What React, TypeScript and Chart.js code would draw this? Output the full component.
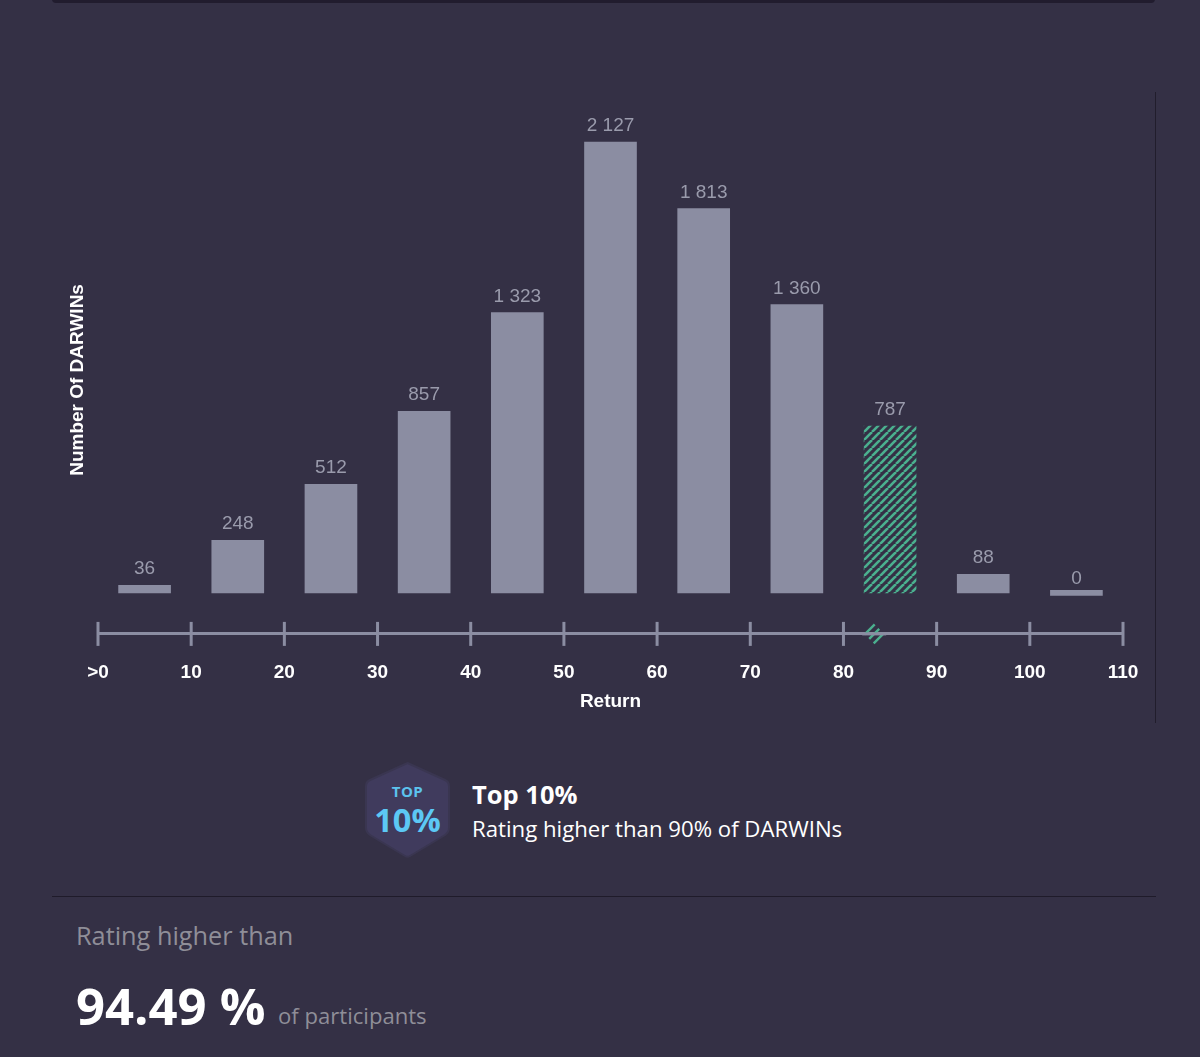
import { useEffect, useRef } from "react";
import Chart from "chart.js/auto";

const binStarts = [5, 15, 25, 35, 45, 55, 65, 75, 85, 95, 105];
const darwinCounts = [36, 248, 512, 857, 1323, 2127, 1813, 1360, 787, 88, 0];
const highlightedBin = 8;
const userReturn = 83.3;

const BG = "#343045";
const BAR = "#8b8da2";
const GREEN = "#4bb08f";
const LABEL_FONT = "'Liberation Sans', Arial, sans-serif";
const TEXT_FONT = "'Open Sans', 'Noto Sans', sans-serif";

function hatchPattern(ctx: CanvasRenderingContext2D) {
    const size = 8;
    const tile = document.createElement("canvas");
    tile.width = size;
    tile.height = size;
    const c = tile.getContext("2d")!;
    c.fillStyle = BG;
    c.fillRect(0, 0, size, size);
    c.strokeStyle = GREEN;
    c.lineWidth = 2.6;
    for (const off of [-size, 0, size]) {
        c.beginPath();
        c.moveTo(off, size);
        c.lineTo(off + size, 0);
        c.stroke();
    }
    return ctx.createPattern(tile, "repeat")!;
}

// thousands separated by a space, as in the original labels
const formatCount = (n: number) => String(n).replace(/\B(?=(\d{3})+$)/g, " ");

const valueLabels = {
    id: "valueLabels",
    afterDatasetsDraw(chart: any) {
        const { ctx } = chart;
        const bars = chart.getDatasetMeta(0).data;
        ctx.save();
        ctx.font = `19px ${LABEL_FONT}`;
        ctx.fillStyle = "#9a9bac";
        ctx.textAlign = "center";
        ctx.textBaseline = "alphabetic";
        bars.forEach((bar: any, i: number) => {
            ctx.fillText(formatCount(darwinCounts[i]), bar.x, bar.y - 11);
        });
        ctx.restore();
    },
};

const axisMarks = {
    id: "axisMarks",
    afterDraw(chart: any) {
        const { ctx, scales } = chart;
        const x = scales.x;
        const y = chart.chartArea.bottom;
        ctx.save();
        ctx.strokeStyle = BAR;
        ctx.lineWidth = 3;
        x.ticks.forEach((t: any) => {
            const px = x.getPixelForValue(t.value);
            ctx.beginPath();
            ctx.moveTo(px, y - 12);
            ctx.lineTo(px, y + 12);
            ctx.stroke();
        });
        // little hatch on the axis where the user's return sits
        const mx = x.getPixelForValue(userReturn);
        ctx.strokeStyle = GREEN;
        ctx.lineWidth = 2.4;
        [-4.5, 0, 4.5].forEach((d) => {
            ctx.beginPath();
            ctx.moveTo(mx + d - 5, y + d + 5);
            ctx.lineTo(mx + d + 5, y + d - 5);
            ctx.stroke();
        });
        // axis line stays on top of the hatch
        ctx.strokeStyle = BAR;
        ctx.lineWidth = 3;
        ctx.beginPath();
        ctx.moveTo(mx - 12, y);
        ctx.lineTo(mx + 12, y);
        ctx.stroke();
        ctx.restore();
    },
};

function Badge() {
    return (
        <div style={{ position: "absolute", left: 362, top: 760, width: 92, height: 100 }}>
            <svg width="92" height="100" viewBox="0 0 92 100" style={{ position: "absolute", left: 0, top: 0 }}>
                <path
                    d="M45.5 3 L83 20 Q87 22 87 26 L87 68 Q87 72 83 75 L48 96 Q45.5 97.5 43 96 L8 75 Q4 72 4 68 L4 26 Q4 22 8 20 Z"
                    fill="#403b5d"
                    stroke="#3a3651"
                    strokeWidth="2"
                />
            </svg>
            <div style={{ position: "absolute", left: 0, width: 91, top: 21, textAlign: "center", color: "#5cc3ee", font: `700 15px ${TEXT_FONT}`, letterSpacing: 0.5 }}>
                TOP
            </div>
            <div style={{ position: "absolute", left: 0, width: 91, top: 37, textAlign: "center", color: "#5cc8f5", font: `700 32.5px ${TEXT_FONT}` }}>
                10%
            </div>
        </div>
    );
}

export default function App() {
    const canvasRef = useRef<HTMLCanvasElement | null>(null);

    useEffect(() => {
        if (!canvasRef.current) {
            return;
        }
        document.body.style.margin = "0";
        document.body.style.background = BG;

        const ctx = canvasRef.current.getContext("2d")!;
        const hatch = hatchPattern(ctx);

        const chart = new Chart(canvasRef.current, {
            type: "bar",
            data: {
                datasets: [
                    {
                        data: binStarts.map((x, i) => ({ x, y: darwinCounts[i] })),
                        backgroundColor: darwinCounts.map((_, i) => (i === highlightedBin ? hatch : BAR)),
                        barThickness: 52,
                        minBarLength: 5,
                    },
                ],
            },
            plugins: [valueLabels, axisMarks],
            options: {
                responsive: false,
                animation: false,
                layout: { padding: { top: 126, right: 77, bottom: 17, left: 66 } },
                plugins: { legend: { display: false }, tooltip: { enabled: false } },
                scales: {
                    x: {
                        type: "linear",
                        offset: false,
                        min: 0,
                        max: 110,
                        grid: { display: false, drawTicks: false },
                        border: { color: BAR, width: 3 },
                        ticks: {
                            stepSize: 10,
                            padding: 27,
                            maxRotation: 0,
                            autoSkip: false,
                            color: "#ffffff",
                            font: { family: LABEL_FONT, size: 19, weight: "bold" },
                            callback: (v: any) => (v === 0 ? ">0" : String(v)),
                        },
                        title: {
                            display: true,
                            text: "Return",
                            color: "#ffffff",
                            font: { family: LABEL_FONT, size: 19, weight: "bold" },
                            padding: { top: -20.5, bottom: 0 },
                        },
                    },
                    y: {
                        min: -193.4,
                        max: 2203,
                        grid: { display: false },
                        border: { display: false },
                        ticks: { display: false },
                        title: {
                            display: true,
                            text: "Number Of DARWINs",
                            color: "#ffffff",
                            font: { family: LABEL_FONT, size: 19, weight: "bold" },
                            padding: 0,
                        },
                        afterFit: (scale: any) => {
                            scale.width = 32;
                        },
                    },
                },
            } as any,
        });

        return () => chart.destroy();
    }, []);

    return (
        <div style={{ position: "relative", width: 1200, height: 1057, overflow: "hidden", background: BG }}>
            <div style={{ position: "absolute", left: 52, top: -8, width: 1103, height: 11, background: "#211c2e", borderRadius: 4 }} />
            <canvas ref={canvasRef} width={1200} height={730} style={{ position: "absolute", left: 0, top: 0 }} />
            <div style={{ position: "absolute", left: 1155, top: 92, width: 1, height: 631, background: "#211d2c" }} />
            <Badge />
            <div style={{ position: "absolute", left: 472, top: 777, color: "#fff", font: `700 25.5px ${TEXT_FONT}` }}>Top 10%</div>
            <div style={{ position: "absolute", left: 472, top: 813, color: "#fff", font: `400 22.2px ${TEXT_FONT}` }}>Rating higher than 90% of DARWINs</div>
            <div style={{ position: "absolute", left: 52, top: 896, width: 1104, height: 1, background: "#1f1b2a" }} />
            <div style={{ position: "absolute", left: 76, top: 918, color: "#8f8e98", font: `400 25.3px ${TEXT_FONT}` }}>Rating higher than</div>
            <div style={{ position: "absolute", left: 76, top: 971, color: "#fff", font: `700 50.8px ${TEXT_FONT}` }}>94.49 %</div>
            <div style={{ position: "absolute", left: 278, top: 1000, color: "#8f8e98", font: `400 22.1px ${TEXT_FONT}` }}>of participants</div>
        </div>
    );
}
